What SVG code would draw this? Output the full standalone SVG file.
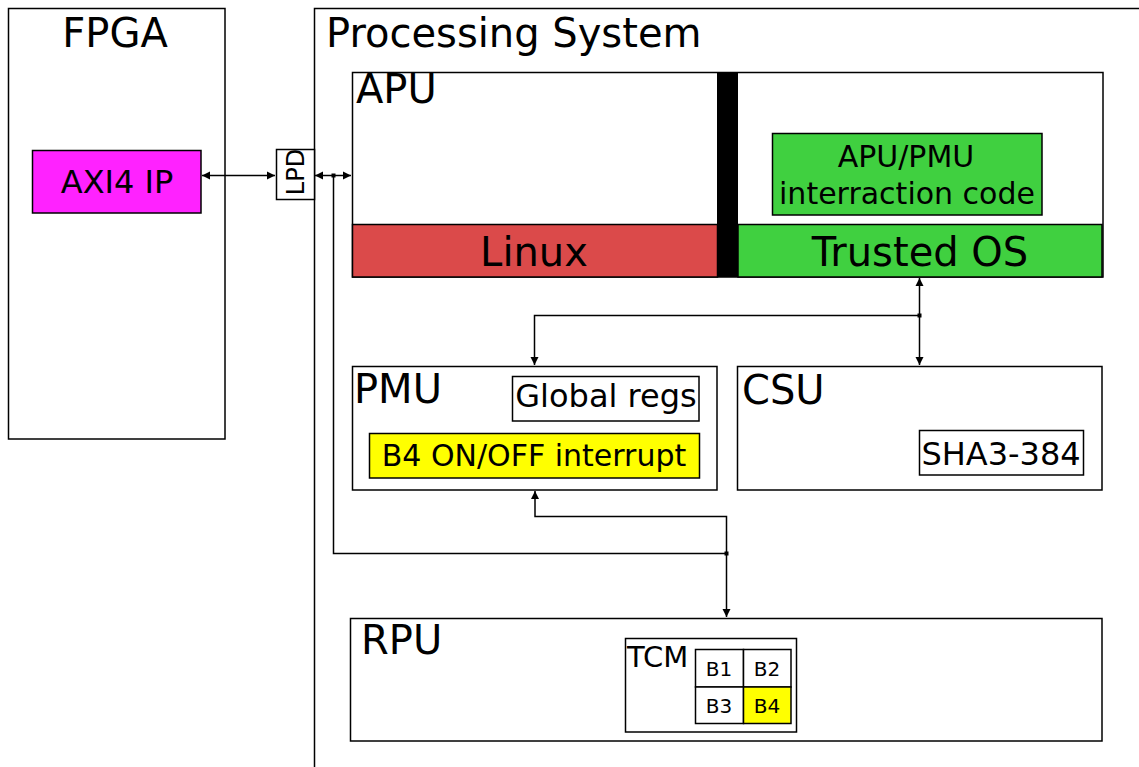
<svg xmlns="http://www.w3.org/2000/svg" width="1139" height="767" viewBox="0 0 1139 767">
  <defs>
    <marker id="arr" viewBox="0 0 10 10" refX="10" refY="5" markerWidth="5.5" markerHeight="5.5" orient="auto-start-reverse" markerUnits="strokeWidth">
      <path d="M0,0 L10,5 L0,10 Z" fill="#000"/>
    </marker>
  </defs>
  <style>
    text { font-family: "DejaVu Sans", "Liberation Sans", sans-serif; fill: #000; }
    .box { fill: #fff; stroke: #000; stroke-width: 1.5; }
    .title { font-size: 40px; }
    .big { font-size: 40px; }
    .label { font-size: 30px; }
    .small { font-size: 32px; }
    .cell { font-size: 20px; }
    .wire { fill: none; stroke: #000; stroke-width: 1.5; }
    .dot { fill: #000; }
  </style>

  <rect width="1139" height="767" fill="#fff"/>

  <!-- FPGA fabric -->
  <g id="fpga">
    <rect class="box" x="8.5" y="8.5" width="216.5" height="430.5"/>
    <text class="title" x="115" y="47" text-anchor="middle">FPGA</text>
  </g>
  <g id="axi4-ip">
    <rect x="32.5" y="150.5" width="168.5" height="62.5" fill="#ff22ff" stroke="#000" stroke-width="1.5"/>
    <text class="small" x="117" y="193" text-anchor="middle">AXI4 IP</text>
  </g>

  <!-- Processing system -->
  <g id="ps">
    <rect class="box" x="314.5" y="8.5" width="840" height="800"/>
    <text class="title" x="326" y="47">Processing System</text>
  </g>

  <g id="lpd">
    <rect class="box" x="276.5" y="149.5" width="38" height="50"/>
    <text x="0" y="0" font-size="24" text-anchor="middle" transform="translate(304,172) rotate(-90)">LPD</text>
  </g>

  <g id="apu">
    <rect class="box" x="352.5" y="72.5" width="750.5" height="204.5"/>
    <text class="title" x="356" y="103">APU</text>
    <rect x="352.5" y="224.5" width="365" height="52.5" fill="#db4a4a" stroke="#000" stroke-width="1.5"/>
    <text class="big" x="534" y="266" text-anchor="middle">Linux</text>
    <rect x="717" y="72" width="21" height="205" fill="#000"/>
    <rect x="738" y="224.5" width="364" height="52.5" fill="#40d040" stroke="#000" stroke-width="1.5"/>
    <text class="big" x="920" y="266" text-anchor="middle">Trusted OS</text>
  </g>

  <g id="apu-pmu-code">
    <rect x="772.5" y="133.5" width="269.5" height="81.5" fill="#40d040" stroke="#000" stroke-width="1.5"/>
    <text class="label" x="906" y="167" text-anchor="middle">APU/PMU</text>
    <text class="label" x="907" y="204" text-anchor="middle">interraction code</text>
  </g>

  <g id="pmu">
    <rect class="box" x="352.5" y="366.5" width="364.5" height="123.5"/>
    <text class="title" x="354" y="403">PMU</text>
    <rect class="box" x="512.5" y="376.5" width="186.5" height="44.5"/>
    <text class="small" x="606" y="407" text-anchor="middle">Global regs</text>
    <rect x="369.5" y="433.5" width="330" height="44.5" fill="#ffff00" stroke="#000" stroke-width="1.5"/>
    <text class="label" x="534" y="466" text-anchor="middle">B4 ON/OFF interrupt</text>
  </g>

  <g id="csu">
    <rect class="box" x="737.5" y="366.5" width="364.5" height="123.5"/>
    <text class="title" x="742" y="404">CSU</text>
    <rect class="box" x="919.5" y="430.5" width="164" height="44.5"/>
    <text class="small" x="1001" y="465" text-anchor="middle">SHA3-384</text>
  </g>

  <g id="rpu">
    <rect class="box" x="350.5" y="618.5" width="751.5" height="122.5"/>
    <text class="title" x="361" y="654">RPU</text>
  </g>

  <g id="tcm">
    <rect class="box" x="625.5" y="638.5" width="171" height="93.5"/>
    <text x="627" y="667" font-size="29">TCM</text>
    <rect class="box" x="695.5" y="649.5" width="48" height="37.5"/>
    <rect class="box" x="743.5" y="649.5" width="47.5" height="37.5"/>
    <rect class="box" x="695.5" y="687" width="48" height="36.5"/>
    <rect x="743.5" y="687" width="47.5" height="36.5" fill="#ffff00" stroke="#000" stroke-width="1.5"/>
    <text class="cell" x="719" y="676" text-anchor="middle">B1</text>
    <text class="cell" x="767" y="676" text-anchor="middle">B2</text>
    <text class="cell" x="719" y="713" text-anchor="middle">B3</text>
    <text class="cell" x="767" y="713" text-anchor="middle">B4</text>
  </g>

  <!-- Interconnect -->
  <g id="connectors">
    <path class="wire" d="M202,175.5 H275" marker-start="url(#arr)" marker-end="url(#arr)"/>
    <path class="wire" d="M315,175.5 H351" marker-start="url(#arr)" marker-end="url(#arr)"/>
    <path class="wire" d="M333.5,175.5 V553.5 H726.5"/>
    <path class="wire" d="M726.5,553.5 V617" marker-end="url(#arr)"/>
    <path class="wire" d="M726.5,553.5 V516.5 H535 V491" marker-end="url(#arr)"/>
    <path class="wire" d="M919.5,278 V365" marker-start="url(#arr)" marker-end="url(#arr)"/>
    <path class="wire" d="M919.5,315.5 H534.5 V365" marker-end="url(#arr)"/>
    <rect class="dot" x="331.5" y="173.5" width="4" height="4"/>
    <rect class="dot" x="724.5" y="551.5" width="4" height="4"/>
    <rect class="dot" x="917.5" y="313.5" width="4" height="4"/>
  </g>
</svg>
